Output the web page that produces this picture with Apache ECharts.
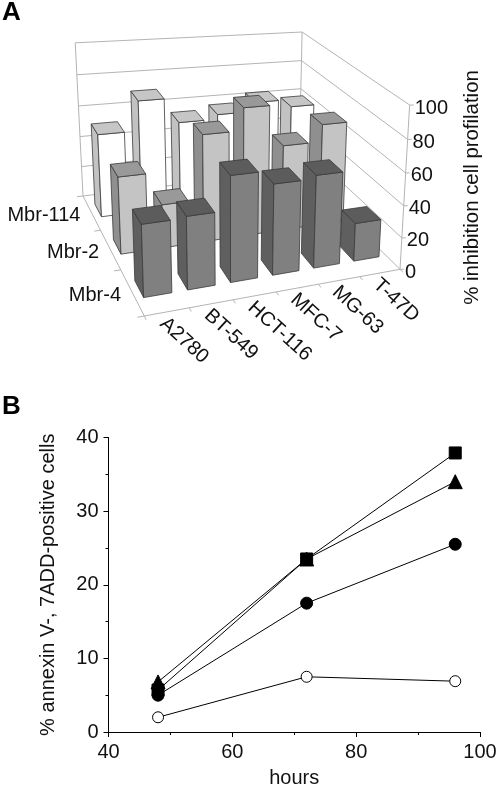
<!DOCTYPE html>
<html>
<head>
<meta charset="utf-8">
<style>
  html, body { margin: 0; padding: 0; background: #fff; }
  #chart { width: 498px; height: 786px; }
</style>
</head>
<body>
<div id="chart"></div>
<script src="https://cdn.jsdelivr.net/npm/echarts@6/dist/echarts.min.js"></script>
<script>
// panel A
const cellLines = ['A2780', 'BT-549', 'HCT-116', 'MFC-7', 'MG-63', 'T-47D']
const compounds = ['Mbr-4', 'Mbr-2', 'Mbr-114']
const mbr4 = [42, 43, 63, 55, 57, 24]
const mbr2 = [47, 27, 67, 81, 55, 66]
const mbr114 = [53, 72, 56, 59, 65, 60]
const inhibitionTicks = [0, 20, 40, 60, 80, 100]

// panel B
const hours = [48, 72, 96]
const openCircle = [2, 7.5, 6.9]
const filledCircle = [5, 17.5, 25.5]
const filledSquare = [5.7, 23.5, 37.9]
const filledTriangle = [6.8, 23.5, 34]

const FONT = '"Liberation Sans", Arial, sans-serif'
const rows = [mbr4, mbr2, mbr114]
// front / side / top
const faceColors = [
  ['#808080', '#5f5f5f', '#5c5c5c'],
  ['#c4c4c4', '#8f8f8f', '#999999'],
  ['#ffffff', '#c2c2c2', '#c6c6c6']
]

// floor corners on the page: (0,0) (1,0) (1,1) (0,1)
const floor = [[144.3, 316], [400, 269.3], [299, 170], [83, 196]]
const verticalVanish = [232, 3133]
const zPersp = -0.062

const dx1 = floor[1][0] - floor[2][0]
const dy1 = floor[1][1] - floor[2][1]
const dx2 = floor[3][0] - floor[2][0]
const dy2 = floor[3][1] - floor[2][1]
const sx = floor[0][0] - floor[1][0] + floor[2][0] - floor[3][0]
const sy = floor[0][1] - floor[1][1] + floor[2][1] - floor[3][1]
const den = dx1 * dy2 - dx2 * dy1
const g = (sx * dy2 - dx2 * sy) / den
const h = (dx1 * sy - sx * dy1) / den

// u: cell line axis, v: compound axis, z: % / 100
function project (u0, v, z) {
  // the front axis spacing is a bit flatter than the corners give
  const u = u0 - 0.07 * u0 * (1 - u0) * (1 - v)
  const w = g * u + h * v + 1
  const nx = (floor[1][0] - floor[0][0] + g * floor[1][0]) * u + (floor[3][0] - floor[0][0] + h * floor[3][0]) * v + floor[0][0]
  const ny = (floor[1][1] - floor[0][1] + g * floor[1][1]) * u + (floor[3][1] - floor[0][1] + h * floor[3][1]) * v + floor[0][1]
  const k = zPersp * z
  return [(nx + k * verticalVanish[0]) / (w + k), (ny + k * verticalVanish[1]) / (w + k)]
}

function line (p, q, color) {
  return {
    type: 'line',
    shape: { x1: p[0], y1: p[1], x2: q[0], y2: q[1] },
    style: { stroke: color || '#b4b4b4', lineWidth: 1 }
  }
}

function label (text, x, y, align, rotation) {
  return {
    type: 'text',
    x: x,
    y: y,
    rotation: rotation || 0,
    style: { text: text, font: '20px ' + FONT, fill: '#111', align: align, verticalAlign: 'middle' }
  }
}

function renderWalls (params, api) {
  const t = api.value(0) / 100
  const children = [
    line(project(0, 1, t), project(1, 1, t)),
    line(project(1, 1, t), project(1, 0, t)),
    line(project(1, 0, t), [project(1, 0, t)[0] + 4, project(1, 0, t)[1]]),
    label(String(api.value(0)), project(1, 0, t)[0] + 5, project(1, 0, t)[1] + 3, 'left')
  ]
  return { type: 'group', children: children }
}

function renderFrame () {
  const children = [
    line(project(0, 1, 0), project(0, 1, 1)),
    line(project(1, 1, 0), project(1, 1, 1)),
    line(project(1, 0, 0), project(1, 0, 1)),
    line(project(0, 1, 0), project(0, 0, 0)),
    line(project(0, 0, 0), project(1, 0, 0))
  ]
  for (let i = 0; i <= cellLines.length; i++) {
    const u = i / cellLines.length
    children.push(line(project(u, 0, 0), project(u, -0.025, 0)))
  }
  for (let j = 0; j <= compounds.length; j++) {
    const v = j / compounds.length
    children.push(line(project(0, v, 0), project(-0.025, v, 0)))
  }
  cellLines.forEach(function (name, i) {
    const p = project((i + 0.5) / cellLines.length, 0, 0)
    children.push(label(name, p[0] - 4, p[1] + 9, 'left', -0.74))
  })
  compounds.forEach(function (name, j) {
    const p = project(0, (j + 0.5) / compounds.length, 0)
    children.push(label(name, p[0] - 11, p[1] + 3, 'right'))
  })
  return { type: 'group', children: children }
}

function renderBar (params, api) {
  const i = api.value(0)
  const j = api.value(1)
  const t = api.value(2) / 100
  const u0 = (i + 0.18) / cellLines.length
  const u1 = (i + 0.82) / cellLines.length
  const v0 = (j + 0.35) / compounds.length
  const v1 = (j + 0.72) / compounds.length
  const colors = faceColors[j]
  const face = function (points, fill) {
    return {
      type: 'polygon',
      shape: { points: points },
      style: { fill: fill, stroke: '#3a3a3a', lineWidth: 0.8 }
    }
  }
  return {
    type: 'group',
    children: [
      face([project(u0, v0, 0), project(u0, v1, 0), project(u0, v1, t), project(u0, v0, t)], colors[1]),
      face([project(u0, v0, 0), project(u1, v0, 0), project(u1, v0, t), project(u0, v0, t)], colors[0]),
      face([project(u0, v0, t), project(u1, v0, t), project(u1, v1, t), project(u0, v1, t)], colors[2])
    ]
  }
}

// back row and far cells first so the nearer bars cover them
const barData = []
for (let j = rows.length - 1; j >= 0; j--) {
  for (let i = cellLines.length - 1; i >= 0; i--) {
    barData.push([i, j, rows[j][i]])
  }
}

function pairs (values) {
  return hours.map(function (x, i) { return [x, values[i]] })
}

const lineBase = {
  type: 'line',
  lineStyle: { color: '#000', width: 1 },
  itemStyle: { color: '#000', borderColor: '#000', borderWidth: 1, opacity: 1 },
  xAxisIndex: 0,
  yAxisIndex: 0
}

const axisLabelStyle = { color: '#111', fontSize: 20, fontFamily: FONT }

const option = {
  animation: false,
  backgroundColor: '#fff',
  graphic: [
    { type: 'text', left: 2, top: 0, style: { text: 'A', font: 'bold 26px ' + FONT, fill: '#000' } },
    { type: 'text', left: 2, top: 394, style: { text: 'B', font: 'bold 26px ' + FONT, fill: '#000' } },
    {
      type: 'text',
      x: 472,
      y: 187.5,
      rotation: Math.PI / 2,
      style: { text: '% inhibition cell profilation', font: '20.4px ' + FONT, fill: '#111', align: 'center', verticalAlign: 'middle' }
    }
  ],
  grid: { left: 108.5, top: 437.5, width: 371.5, height: 294.5, outerBoundsMode: 'none' },
  xAxis: {
    type: 'value',
    min: 40,
    max: 100,
    interval: 20,
    name: 'hours',
    nameLocation: 'middle',
    nameGap: 36,
    nameTextStyle: axisLabelStyle,
    splitLine: { show: false },
    axisLine: { lineStyle: { color: '#000', width: 1 } },
    axisTick: { show: true, length: 5, lineStyle: { color: '#000' } },
    minorTick: { show: true, splitNumber: 2, length: 3, lineStyle: { color: '#000' } },
    axisLabel: Object.assign({ margin: 10 }, axisLabelStyle)
  },
  yAxis: {
    type: 'value',
    min: 0,
    max: 40,
    interval: 10,
    name: '% annexin V-, 7ADD-positive cells',
    nameLocation: 'middle',
    nameGap: 50,
    nameTextStyle: axisLabelStyle,
    splitLine: { show: false },
    axisLine: { show: true, lineStyle: { color: '#000', width: 1 } },
    axisTick: { show: true, length: 5, lineStyle: { color: '#000' } },
    minorTick: { show: true, splitNumber: 2, length: 3, lineStyle: { color: '#000' } },
    axisLabel: Object.assign({ margin: 10 }, axisLabelStyle)
  },
  series: [
    { type: 'custom', coordinateSystem: 'none', silent: true, data: inhibitionTicks.map(function (t) { return [t] }), renderItem: renderWalls },
    { type: 'custom', coordinateSystem: 'none', silent: true, data: [[0]], renderItem: renderFrame },
    { type: 'custom', coordinateSystem: 'none', silent: true, data: barData, renderItem: renderBar },
    Object.assign({}, lineBase, { name: 'open circle', data: pairs(openCircle), symbol: 'circle', symbolSize: 11, itemStyle: { color: '#fff', borderColor: '#000', borderWidth: 1 } }),
    Object.assign({}, lineBase, { name: 'filled circle', data: pairs(filledCircle), symbol: 'circle', symbolSize: 12 }),
    Object.assign({}, lineBase, { name: 'triangle', data: pairs(filledTriangle), symbol: 'triangle', symbolSize: 14 }),
    Object.assign({}, lineBase, { name: 'square', data: pairs(filledSquare), symbol: 'rect', symbolSize: 12 })
  ]
}

const myChart = echarts.init(document.getElementById('chart'), null, { renderer: 'canvas' })
myChart.setOption(option)
</script>
</body>
</html>
